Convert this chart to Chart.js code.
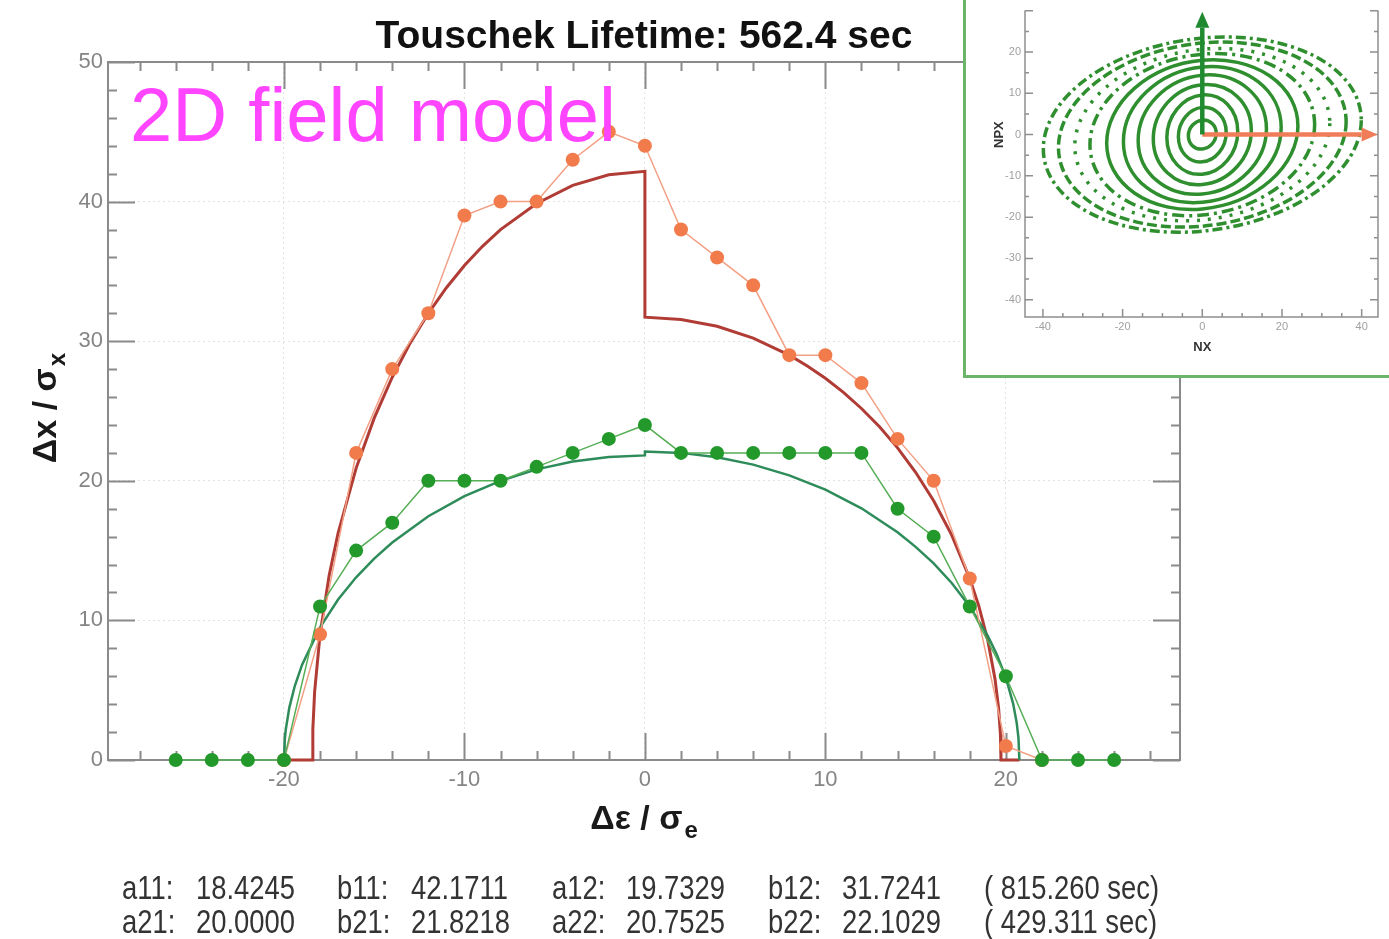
<!DOCTYPE html>
<html>
<head>
<meta charset="utf-8">
<script src="https://cdn.jsdelivr.net/npm/chart.js@4.4.1/dist/chart.umd.min.js"></script>
<style>
html,body{margin:0;padding:0;background:#fff;overflow:hidden;}
#wrap{position:relative;width:1389px;height:939px;}
#main{position:absolute;left:0;top:0;}
#inset{position:absolute;left:963px;top:0;width:430px;height:378px;border-left:3px solid #6ab56a;border-bottom:3px solid #6ab56a;background:#fff;box-sizing:border-box;}
#insetCanvas{position:absolute;left:0;top:0;}
</style>
</head>
<body>
<div id="wrap">
  <canvas id="main" width="1389" height="939"></canvas>
  <div id="inset"><canvas id="insetCanvas" width="427" height="375"></canvas></div>
</div>
<script>
// ---------------- data ----------------
const chartTitle = 'Touschek Lifetime: 562.4 sec';
const annotation = '2D field model';

const measRedX = [-20,-18,-16,-14,-12,-10,-8,-6,-4,-2,0,2,4,6,8,10,12,14,16,18,20,22];
const measRedY = [0,9,22,28,32,39,40,40,43,45,44,38,36,34,29,29,27,23,20,13,1,0];

const measGreenX = [-26,-24,-22,-20,-18,-16,-14,-12,-10,-8,-6,-4,-2,0,2,4,6,8,10,12,14,16,18,20,22,24,26];
const measGreenY = [0,0,0,0,11,15,17,20,20,20,21,22,23,24,22,22,22,22,22,22,18,16,11,6,0,0,0];

const fitRedX = [-20,-18.42,-18.4,-18.3,-18,-17.5,-17,-16,-15,-14,-13,-12,-11,-10,-9,-8,-6,-4,-2,0,0,2,4,6,8,9,10,11,12,13,14,15,16,17,18,18.5,19,19.4,19.6,19.7,19.73,20.75];
const fitRedY = [0,0,2.18,4.90,9.00,13.19,16.26,20.91,24.49,27.42,29.88,32.00,33.83,35.42,36.80,37.99,39.87,41.16,41.92,42.17,31.72,31.56,31.07,30.22,29.00,28.23,27.35,26.34,25.18,23.87,22.36,20.61,18.57,16.11,13.00,11.04,8.57,5.80,3.67,1.83,0,0];

const fitGreenX = [-20,-19.95,-19.9,-19.7,-19.4,-19,-18,-17,-16,-15,-14,-12,-10,-8,-6,-4,-2,0,0,2,4,6,8,10,12,14,15,16,17,18,19,19.5,20,20.4,20.6,20.7,20.75];
const fitGreenY = [0,1.54,2.18,3.77,5.30,6.81,9.51,11.50,13.09,14.43,15.58,17.46,18.90,20.00,20.82,21.38,21.71,21.82,22.10,22.00,21.69,21.16,20.39,19.37,18.03,16.32,15.27,14.08,12.68,11.00,8.89,7.56,5.90,4.06,2.68,1.57,0];

const xTickValues = [-20,-10,0,10,20];
const yTickValues = [0,10,20,30,40,50];
const xMinorTicks = [-28,-26,-24,-22,-20,-18,-16,-14,-12,-10,-8,-6,-4,-2,0,2,4,6,8,10,12,14,16,18,20,22,24,26,28];
const yMinorTicks = [0,2,4,6,8,10,12,14,16,18,20,22,24,26,28,30,32,34,36,38,40,42,44,46,48,50];

const paramNames = [['a11','b11','a12','b12'],['a21','b21','a22','b22']];
const paramValues = [[18.4245,42.1711,19.7329,31.7241],[20.0000,21.8218,20.7525,22.1029]];
const lifetimes = [815.260, 429.311];

// inset (phase space)
const ringNX  = [3.5, 6.0, 8.9, 12.3, 16.1, 19.8, 24.0, 28.2, 32.0, 36.1, 39.9];
const ringNPX = [3.5, 6.6, 9.6, 12.1, 14.4, 16.4, 18.0, 19.5, 20.7, 22.2, 23.4];
const insetXTicks = [-40,-20,0,20,40];
const insetYTicks = [-40,-30,-20,-10,0,10,20];
const insetXMinor = [-40,-35,-30,-25,-20,-15,-10,-5,0,5,10,15,20,25,30,35,40];
const insetYMinor = [-40,-35,-30,-25,-20,-15,-10,-5,0,5,10,15,20,25,30];
const arrowUp = [0, 30];     // NX, NPX tip of green arrow
const arrowRight = [44, 0];  // NX, NPX tip of orange arrow

// ---------------- styles ----------------
const SANS = '"Liberation Sans",Arial,sans-serif';
const ringDash = [[],[],[],[],[],[],[],[12,5,3,5],[3,8],[10,4],[10,4,3,4]];
const ringShear = 0.09;
const NARROW_SCALE = 0.83;

const pts = (xs, ys) => xs.map((x, i) => ({x, y: ys[i]}));

const framePlugin = {
  id: 'frame',
  beforeDatasetsDraw(chart) {
    const {ctx, chartArea: a, scales: {x, y}} = chart;
    ctx.save();
    ctx.strokeStyle = '#8a8a8a';
    ctx.lineWidth = 2;
    ctx.strokeRect(a.left, a.top, a.right - a.left, a.bottom - a.top);
    ctx.beginPath();
    xMinorTicks.forEach(v => {
      const len = v % 10 === 0 ? 27 : 9;
      const px = Math.round(x.getPixelForValue(v)) + 0.5;
      ctx.moveTo(px, a.bottom); ctx.lineTo(px, a.bottom - len);
      ctx.moveTo(px, a.top); ctx.lineTo(px, a.top + len);
    });
    yMinorTicks.forEach(v => {
      const len = v % 10 === 0 ? 27 : 9;
      const py = Math.round(y.getPixelForValue(v)) + 0.5;
      ctx.moveTo(a.left, py); ctx.lineTo(a.left + len, py);
      ctx.moveTo(a.right, py); ctx.lineTo(a.right - len, py);
    });
    ctx.stroke();
    ctx.restore();
  }
};

function narrowText(ctx, txt, x, y) {
  ctx.save();
  ctx.translate(x, y);
  ctx.scale(NARROW_SCALE, 1);
  ctx.fillText(txt, 0, 0);
  ctx.restore();
}

const textPlugin = {
  id: 'texts',
  afterDraw(chart) {
    const {ctx, chartArea: a} = chart;
    const cx = (a.left + a.right) / 2;
    ctx.save();
    // title
    ctx.fillStyle = '#111';
    ctx.font = 'bold 39px ' + SANS;
    ctx.textAlign = 'center';
    ctx.textBaseline = 'alphabetic';
    ctx.fillText(chartTitle, cx, 48);
    // annotation
    ctx.fillStyle = '#ff45ff';
    ctx.font = '76px ' + SANS;
    ctx.textAlign = 'left';
    ctx.fillText(annotation, 130, 141);
    // x axis title
    ctx.fillStyle = '#1a1a1a';
    ctx.font = 'bold 34px ' + SANS;
    const main = 'Δε / σ';
    const wMain = ctx.measureText(main).width;
    ctx.font = 'bold 24px ' + SANS;
    const wSub = ctx.measureText('e').width;
    const x0 = cx - (wMain + wSub + 2) / 2;
    ctx.font = 'bold 34px ' + SANS;
    ctx.fillText(main, x0, 829);
    ctx.font = 'bold 24px ' + SANS;
    ctx.fillText('e', x0 + wMain + 2, 838);
    // y axis title
    ctx.save();
    ctx.translate(56, 408);
    ctx.rotate(-Math.PI / 2);
    ctx.font = 'bold 34px ' + SANS;
    const ym = 'Δx / σ';
    const wy = ctx.measureText(ym).width;
    ctx.font = 'bold 24px ' + SANS;
    const wys = ctx.measureText('x').width;
    const y0 = -(wy + wys + 2) / 2;
    ctx.font = 'bold 34px ' + SANS;
    ctx.fillText(ym, y0, 0);
    ctx.font = 'bold 24px ' + SANS;
    ctx.fillText('x', y0 + wy + 2, 9);
    ctx.restore();
    // fit parameters
    ctx.fillStyle = '#333';
    ctx.font = '33px ' + SANS;
    const colX = [122, 337, 552, 768];
    const baseY = [899, 933];
    paramNames.forEach((row, r) => {
      row.forEach((nm, c) => {
        narrowText(ctx, nm + ':', colX[c], baseY[r]);
        narrowText(ctx, paramValues[r][c].toFixed(4), colX[c] + 74, baseY[r]);
      });
      narrowText(ctx, '( ' + lifetimes[r].toFixed(3) + ' sec)', 984, baseY[r]);
    });
    ctx.restore();
  }
};

new Chart(document.getElementById('main'), {
  type: 'scatter',
  data: {
    datasets: [
      {data: pts(fitRedX, fitRedY), showLine: true, borderColor: '#b03c35', borderWidth: 3, pointRadius: 0, tension: 0, order: 4, clip: false},
      {data: pts(fitGreenX, fitGreenY), showLine: true, borderColor: '#2d8c5a', borderWidth: 2.5, pointRadius: 0, tension: 0, order: 3, clip: false},
      {data: pts(measRedX, measRedY), showLine: true, borderColor: '#f3a085', borderWidth: 1.5, pointRadius: 7, pointBackgroundColor: '#f27b4c', pointBorderWidth: 0, order: 2, clip: false},
      {data: pts(measGreenX, measGreenY), showLine: true, borderColor: '#55ad55', borderWidth: 1.5, pointRadius: 7, pointBackgroundColor: '#22992a', pointBorderWidth: 0, order: 1, clip: false}
    ]
  },
  options: {
    responsive: false,
    animation: false,
    events: [],
    layout: {padding: {left: 0, top: 62, right: 209, bottom: 0}},
    plugins: {legend: {display: false}, tooltip: {enabled: false}, title: {display: false}},
    scales: {
      x: {
        type: 'linear', min: -29.75, max: 29.65,
        afterBuildTicks: s => { s.ticks = xTickValues.map(v => ({value: v})); },
        afterFit: s => { s.height = 179; },
        grid: {color: '#e2e2e2', lineWidth: 1, drawTicks: false},
        border: {display: false, dash: [2, 3]},
        ticks: {color: '#858585', font: {family: SANS, size: 22}, padding: 7, maxRotation: 0, autoSkip: false}
      },
      y: {
        type: 'linear', min: 0, max: 50,
        afterBuildTicks: s => { s.ticks = yTickValues.map(v => ({value: v})); },
        afterFit: s => { s.width = 108; },
        grid: {color: '#e2e2e2', lineWidth: 1, drawTicks: false},
        border: {display: false, dash: [2, 3]},
        ticks: {color: '#858585', font: {family: SANS, size: 22}, padding: 5, autoSkip: false}
      }
    }
  },
  plugins: [framePlugin, textPlugin]
});

// ---------------- inset ----------------
const insetPlugin = {
  id: 'insetDraw',
  beforeDatasetsDraw(chart) {
    const {ctx, chartArea: a, scales: {x, y}} = chart;
    ctx.save();
    ctx.strokeStyle = '#8f8f8f';
    ctx.lineWidth = 1.5;
    ctx.beginPath();
    ctx.moveTo(a.left, a.top); ctx.lineTo(a.left, a.bottom); ctx.lineTo(a.right, a.bottom); ctx.lineTo(a.right, a.top);
    insetXMinor.forEach(v => {
      const len = v % 20 === 0 ? 8 : 4;
      const px = x.getPixelForValue(v);
      ctx.moveTo(px, a.bottom); ctx.lineTo(px, a.bottom - len);
    });
    insetYMinor.forEach(v => {
      const len = v % 10 === 0 ? 8 : 4;
      const py = y.getPixelForValue(v);
      ctx.moveTo(a.left, py); ctx.lineTo(a.left + len, py);
      ctx.moveTo(a.right, py); ctx.lineTo(a.right - len, py);
    });
    ctx.stroke();

    // rings
    const cx = x.getPixelForValue(0), cy = y.getPixelForValue(0);
    ctx.beginPath(); ctx.rect(a.left, a.top, a.right - a.left, a.bottom - a.top); ctx.clip();
    ctx.strokeStyle = '#2f8f2f';
    ctx.lineWidth = 3.5;
    ringNX.forEach((r, i) => {
      const rx = x.getPixelForValue(r) - cx;
      const ry = cy - y.getPixelForValue(ringNPX[i]);
      ctx.save();
      ctx.translate(cx, cy);
      ctx.transform(1, -ringShear, 0, 1, 0, 0);
      ctx.beginPath();
      ctx.ellipse(0, 0, rx, ry, 0, 0, Math.PI * 2);
      ctx.restore();
      ctx.setLineDash(ringDash[i]);
      ctx.stroke();
    });
    ctx.setLineDash([]);

    // arrows
    const arrow = (x1, y1, x2, y2, color) => {
      const ang = Math.atan2(y2 - y1, x2 - x1);
      const hl = 16, hw = 7;
      const bx = x2 - hl * Math.cos(ang), by = y2 - hl * Math.sin(ang);
      ctx.strokeStyle = color; ctx.fillStyle = color; ctx.lineWidth = 4.5;
      ctx.beginPath(); ctx.moveTo(x1, y1); ctx.lineTo(bx, by); ctx.stroke();
      ctx.beginPath();
      ctx.moveTo(x2, y2);
      ctx.lineTo(bx + hw * Math.sin(ang), by - hw * Math.cos(ang));
      ctx.lineTo(bx - hw * Math.sin(ang), by + hw * Math.cos(ang));
      ctx.closePath(); ctx.fill();
    };
    arrow(cx, cy, x.getPixelForValue(arrowRight[0]), y.getPixelForValue(arrowRight[1]), '#f07d58');
    arrow(cx, cy, x.getPixelForValue(arrowUp[0]), y.getPixelForValue(arrowUp[1]) + 1, '#1f8a30');
    ctx.restore();

    // axis titles
    ctx.save();
    ctx.fillStyle = '#333';
    ctx.font = 'bold 13px ' + SANS;
    ctx.textAlign = 'center';
    ctx.fillText('NX', cx, 351);
    ctx.translate(37, cy);
    ctx.rotate(-Math.PI / 2);
    ctx.fillText('NPX', 0, 0);
    ctx.restore();
  }
};

new Chart(document.getElementById('insetCanvas'), {
  type: 'scatter',
  data: {datasets: []},
  options: {
    responsive: false,
    animation: false,
    events: [],
    layout: {padding: {left: 0, top: 0, right: 15, bottom: 0}},
    plugins: {legend: {display: false}, tooltip: {enabled: false}},
    scales: {
      x: {
        type: 'linear', min: -44.5, max: 44.1,
        afterBuildTicks: s => { s.ticks = insetXTicks.map(v => ({value: v})); },
        afterFit: s => { s.height = 58; },
        grid: {display: false, drawTicks: false},
        border: {display: false},
        ticks: {color: '#a0a0a0', font: {family: SANS, size: 11}, padding: 3, maxRotation: 0, autoSkip: false}
      },
      y: {
        type: 'linear', min: -44.2, max: 30.05,
        afterBuildTicks: s => { s.ticks = insetYTicks.map(v => ({value: v})); },
        afterFit: s => { s.width = 59; },
        grid: {display: false, drawTicks: false},
        border: {display: false},
        ticks: {color: '#a0a0a0', font: {family: SANS, size: 11}, padding: 4, autoSkip: false}
      }
    }
  },
  plugins: [insetPlugin]
});
</script>
</body>
</html>
